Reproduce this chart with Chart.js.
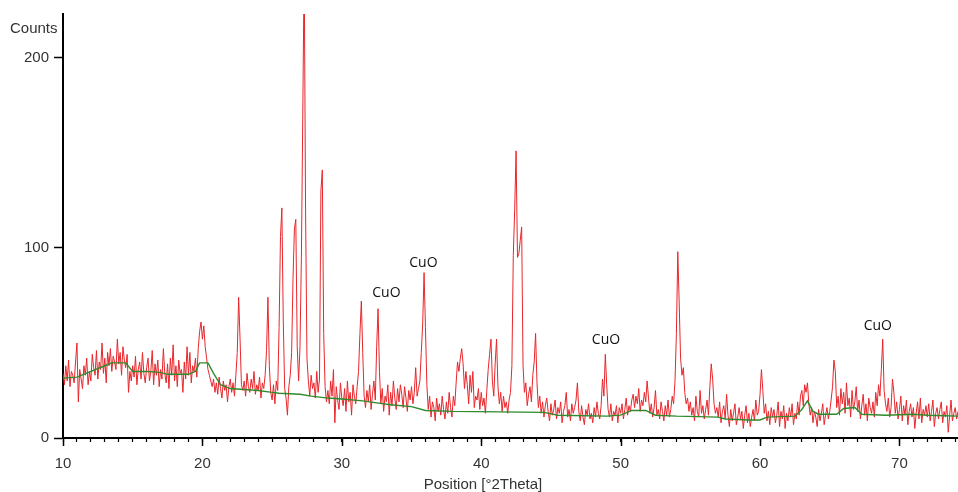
<!DOCTYPE html>
<html>
<head>
<meta charset="utf-8">
<script src="https://cdn.jsdelivr.net/npm/chart.js@4.4.1/dist/chart.umd.min.js"></script>
<style>
  html, body { margin: 0; padding: 0; background: #fff; }
  canvas { display: block; }
</style>
</head>
<body>
<canvas id="graphique_xrd" width="958" height="492"></canvas>
<script>
// scan : debut 10 degres, pas de 0.1
const scanStart = 10;
const scanStep = 0.1;

const counts10 = [
  34, 28, 38, 30, 41, 27, 35, 33, 29, 40,
  50, 19, 36, 31, 26, 38, 33, 42, 28, 35,
  30, 44, 37, 33, 46, 31, 40, 36, 50, 34,
  42, 29, 45, 38, 47, 35, 43, 40, 36, 52,
  39, 45, 33, 48, 41, 37, 44, 24, 35, 30,
  38, 32, 43, 28, 36, 40, 31, 45, 34, 29,
  37, 42, 30, 35, 46, 28, 39, 33, 41, 27,
  36, 31, 47, 34, 29, 39, 26, 42, 33, 49,
  30, 38, 27, 41, 34, 36, 24, 40, 31, 48,
  33, 45, 29, 38, 35, 42, 32, 47, 56, 61
];
const counts20 = [
  52, 59, 48, 42, 36, 33, 30, 27, 31, 24,
  29, 23, 32, 26, 21, 30, 25, 28, 19, 27,
  31, 24, 29, 22, 33, 45, 74, 52, 28, 25,
  30, 22, 34, 27, 24, 31, 26, 35, 23, 28,
  25, 32, 21, 29, 26, 33, 46, 74, 38, 24,
  20, 28, 18, 30, 25, 58, 106, 121, 62, 26,
  21, 12, 27, 33, 45, 84, 110, 115, 48, 30,
  48, 95, 170, 250, 120, 42, 30, 22, 33, 26,
  29, 21, 35, 24, 31, 130, 141, 55, 27, 19,
  25, 18, 30, 22, 36, 8, 27, 20, 15, 29
];
const counts30 = [
  21, 17, 26, 14, 30, 19, 24, 12, 28, 22,
  18, 27, 35, 55, 72, 45, 22, 16, 25, 19,
  28, 15, 23, 30, 20, 48, 68, 35, 18, 26,
  14, 22, 19, 28, 12, 24, 17, 30, 21, 15,
  26, 19, 28, 23, 16, 27, 21, 14, 25, 20,
  27, 18, 24, 37, 22, 26, 30, 45, 60, 87,
  58, 28, 15, 22, 11, 19, 16, 9, 21, 14,
  18, 12, 22, 15, 10, 19, 13, 24, 16, 11,
  22, 17, 29, 40, 35, 42, 47, 39, 26, 35,
  28, 18, 33, 24, 35, 16, 22, 20, 26, 15
];
const counts40 = [
  24, 17, 21, 13, 25, 36, 44, 52, 30, 22,
  39, 52, 27, 18, 24, 14, 22, 16, 19, 13,
  20, 24, 38, 96, 120, 151, 95, 97, 104, 111,
  38, 24, 29, 17, 23, 27, 19, 33, 40, 55,
  29, 16, 22, 13, 19, 11, 17, 21, 14, 9,
  18, 12, 15, 20, 10, 16, 13, 19, 8, 14,
  17, 24, 11, 15, 9, 18, 13, 16, 20, 29,
  14, 9, 17, 11, 7, 15, 12, 18, 10, 13,
  8, 16, 11, 19, 13, 10, 17, 31, 22, 44,
  28, 15, 11, 18, 9, 14, 12, 17, 8, 16
];
const counts50 = [
  13, 18, 10, 15, 21, 12, 17, 14, 20, 23,
  16, 22, 18, 26, 14, 20, 17, 24, 19, 30,
  21, 13, 18, 11, 16, 25, 12, 15, 10, 19,
  14, 9, 17, 12, 20, 11, 15, 22, 18, 30,
  55, 98, 71, 42, 33, 37, 24, 18, 21, 14,
  19, 12, 16, 9, 22, 14, 11, 25, 13, 17,
  10, 15, 20, 12, 27, 39, 31, 18, 13, 16,
  11, 19, 8, 14, 17, 10, 23, 12, 6, 15,
  9, 13, 18, 7, 11, 16, 10, 14, 5, 12,
  17, 8, 13, 6, 11, 15, 9, 20, 12, 14
];
const counts60 = [
  23, 36, 25, 13, 18, 9, 14, 7, 16, 11,
  15, 8, 12, 19, 6, 14, 10, 17, 5, 13,
  9, 16, 11, 18, 7, 13, 10, 19, 12, 22,
  25, 17, 28, 24, 29, 18, 12, 16, 8, 14,
  11, 6, 15, 9, 13, 18, 7, 12, 16, 10,
  14, 20, 27, 41, 35, 16, 22, 12, 26, 18,
  24, 13, 29, 17, 21, 11, 25, 15, 19, 27,
  14, 20, 10, 17, 23, 12, 18, 9, 21, 16,
  13, 19, 11, 24, 17, 28, 22, 36, 52, 25,
  18, 14, 21, 11, 16, 31, 24, 13, 19, 10
];
const counts70 = [
  15, 22, 9, 17, 12, 20, 7, 14, 18, 11,
  16, 5, 13, 19, 10, 21, 8, 15, 12, 17,
  11, 18, 9, 14, 20, 6, 13, 16, 10, 15,
  19, 8, 14, 11, 17, 3, 12, 20, 9, 13,
  16, 10, 14
];

// fond continu (ligne verte)
const bgAngles = [10, 11, 12, 13, 13.5, 14.5, 15, 16, 17, 17.5, 19, 19.5, 19.8, 20.4, 20.8, 21.3, 22, 23, 24, 25,
  25.5, 27, 27.8, 29, 30, 31.5, 32.5, 33.5, 35, 36, 38, 44.5, 45.5, 49, 50, 50.8, 51.8, 52.5, 54, 57,
  57.5, 59.2, 60, 60.5, 62.5, 63, 63.4, 63.8, 64.2, 65.5, 66, 66.8, 67.3, 69, 71, 72, 74.2];
const bgCounts = [31.5, 32, 35, 38, 39.5, 39.5, 35, 35, 34.5, 33.5, 33.5, 35, 39.5, 39.5, 34, 28, 26, 25.5, 25, 24,
  23.5, 23, 22, 21, 20.5, 19.5, 18.5, 17.5, 16.5, 14.5, 14, 13.5, 12, 11.5, 12, 14.5, 14.5, 12, 11.5, 11,
  10, 9.5, 9.5, 11, 11.5, 15, 19.5, 14, 12.5, 12.5, 15.5, 16, 12.5, 12, 12.5, 12, 11.5];

// graduations
const xMajorTicks = [10, 20, 30, 40, 50, 60, 70];
const yTicks = [0, 100, 200];
const peakName = 'CuO';

function buildScan() {
  let points = [];
  const all = [].concat(counts10, counts20, counts30, counts40, counts50, counts60, counts70);
  all.forEach((v, i) => {
    points.push({ x: +(scanStart + i * scanStep).toFixed(2), y: v });
  });
  return points;
}

const bgPoints = bgAngles.map((a, i) => ({ x: a, y: bgCounts[i] }));

// textes en plus : "Counts" et les etiquettes CuO
const decorations = {
  id: 'decorations',
  afterDraw(chart) {
    const ctx = chart.ctx;
    const xs = chart.scales.x;
    const ys = chart.scales.y;
    ctx.save();
    // grandes graduations sous l'axe x
    ctx.strokeStyle = '#000';
    ctx.lineWidth = 1.5;
    xMajorTicks.forEach(v => {
      const px = Math.round(xs.getPixelForValue(v)) + 0.5;
      ctx.beginPath();
      ctx.moveTo(px, ys.bottom);
      ctx.lineTo(px, ys.bottom + 8);
      ctx.stroke();
    });
    ctx.font = '15px "Liberation Sans"';
    ctx.fillStyle = '#333';
    ctx.textAlign = 'left';
    ctx.textBaseline = 'middle';
    ctx.fillText('Counts', 10, 29);

    // titre de l'axe x
    ctx.textAlign = 'center';
    ctx.fillText('Position [°2Theta]', 483, 485);

    ctx.font = '14px "Open Sans"';
    ctx.fillStyle = '#111';
    // ancrage des etiquettes (angle, coups)
    [[33.2, 76], [35.85, 92], [48.95, 51.5], [68.45, 59]].forEach(p => {
      ctx.fillText(peakName, xs.getPixelForValue(p[0]), ys.getPixelForValue(p[1]));
    });
    ctx.restore();
  }
};

Chart.defaults.font.family = '"Liberation Sans", Arial, sans-serif';

const graph = document.getElementById('graphique_xrd');

new Chart(graph, {
  type: 'line',
  data: {
    datasets: [
      {
        data: bgPoints,
        borderColor: '#2f8a2a',
        borderWidth: 1.4,
        pointRadius: 0,
        tension: 0,
        order: 0
      },
      {
        data: buildScan(),
        borderColor: '#e8262b',
        borderWidth: 1,
        pointRadius: 0,
        tension: 0,
        order: 1
      }
    ]
  },
  options: {
    responsive: false,
    animation: false,
    layout: { padding: { top: 14, right: 0, bottom: 0, left: 0 } },
    plugins: {
      legend: { display: false },
      tooltip: { enabled: false }
    },
    scales: {
      x: {
        type: 'linear',
        min: 10,
        max: 74.2,
        afterFit: s => {
          s.height = 54;
          s.paddingRight = 0;
          s.paddingLeft = 0;
        },
        afterBuildTicks: s => {
          let t = [];
          for (let v = 10; v <= 74; v++) t.push({ value: v });
          s.ticks = t;
        },
        border: { display: true, color: '#000', width: 2 },
        grid: {
          drawOnChartArea: false,
          drawTicks: true,
          tickLength: 4,
          tickColor: '#000',
          tickWidth: 1.2
        },
        ticks: {
          autoSkip: false,
          maxRotation: 0,
          padding: 13,
          color: '#333',
          font: { size: 15 },
          callback: v => (v % 10 === 0 ? v : '')
        }
      },
      y: {
        min: 0,
        max: 223,
        afterFit: s => { s.width = 63; },
        afterBuildTicks: s => { s.ticks = yTicks.map(v => ({ value: v })); },
        border: { display: true, color: '#000', width: 2 },
        grid: {
          drawOnChartArea: false,
          drawTicks: true,
          tickLength: 9,
          tickColor: '#000',
          tickWidth: 1.5
        },
        ticks: {
          padding: 5,
          color: '#333',
          font: { size: 15 }
        }
      }
    }
  },
  plugins: [decorations]
});
</script>
</body>
</html>
